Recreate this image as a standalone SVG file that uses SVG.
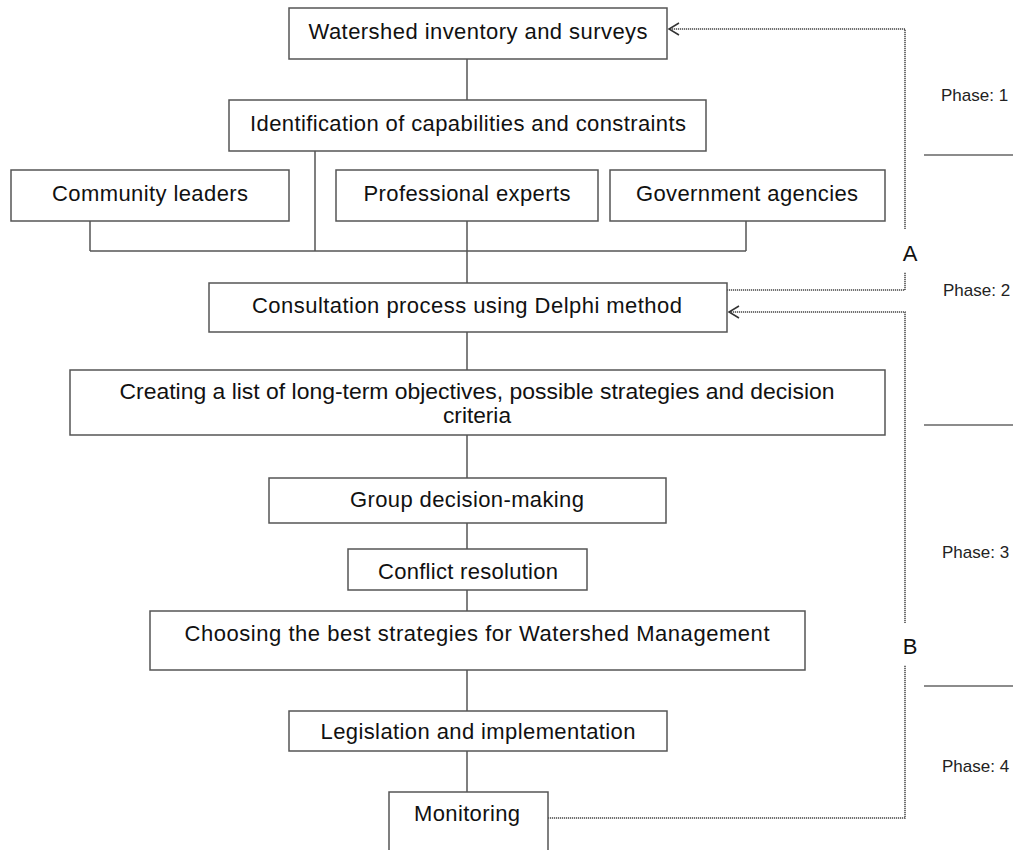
<svg xmlns="http://www.w3.org/2000/svg" width="1013" height="850" viewBox="0 0 1013 850">
  <style>
    .box { fill: #ffffff; stroke: #555555; stroke-width: 1.5; }
    .line { fill: none; stroke: #555555; stroke-width: 1.5; }
    .dot { fill: none; stroke: #444444; stroke-width: 1.5; stroke-dasharray: 1.2 0.8; }
    .head { fill: none; stroke: #333333; stroke-width: 1.5; }
    .lbl { font-family: "Liberation Sans", Arial, sans-serif; font-size: 22px; fill: #111111; text-anchor: middle; }
    .phase { font-family: "Liberation Sans", Arial, sans-serif; font-size: 17px; fill: #222222; }
    .sep { stroke: #666666; stroke-width: 1.5; }
  </style>

  <!-- connectors -->
  <g id="connectors">
    <!-- main spine -->
    <line class="line" x1="467" y1="59" x2="467" y2="100"/>
    <line class="line" x1="315" y1="151" x2="315" y2="251"/>
    <line class="line" x1="90" y1="221" x2="90" y2="251"/>
    <line class="line" x1="746" y1="221" x2="746" y2="251"/>
    <line class="line" x1="90" y1="251" x2="746" y2="251"/>
    <line class="line" x1="467" y1="221" x2="467" y2="283"/>
    <line class="line" x1="467" y1="332" x2="467" y2="370"/>
    <line class="line" x1="467" y1="435" x2="467" y2="478"/>
    <line class="line" x1="467" y1="523" x2="467" y2="549"/>
    <line class="line" x1="467" y1="590" x2="467" y2="611"/>
    <line class="line" x1="467" y1="670" x2="467" y2="711"/>
    <line class="line" x1="467" y1="751" x2="467" y2="792"/>

    <!-- feedback loop A -->
    <polyline class="dot" points="727,290 905,290 905,272"/>
    <polyline class="dot" points="905,229 905,29 670,29"/>
    <polyline class="head" points="679,23 669,29 679,35"/>

    <!-- feedback loop B -->
    <polyline class="dot" points="548,818 905,818 905,665"/>
    <polyline class="dot" points="905,623 905,312 730,312"/>
    <polyline class="head" points="739,306 729,312 739,318"/>
  </g>

  <!-- nodes -->
  <g id="watershed-inventory">
    <rect class="box" x="289" y="8" width="378" height="51"/>
    <text class="lbl" x="478" y="39" textLength="339" lengthAdjust="spacing">Watershed inventory and surveys</text>
  </g>
  <g id="identification">
    <rect class="box" x="229" y="100" width="477" height="51"/>
    <text class="lbl" x="468" y="131" textLength="436" lengthAdjust="spacing">Identification of capabilities and constraints</text>
  </g>
  <g id="community-leaders">
    <rect class="box" x="11" y="170" width="278" height="51"/>
    <text class="lbl" x="150" y="201" textLength="196" lengthAdjust="spacing">Community leaders</text>
  </g>
  <g id="professional-experts">
    <rect class="box" x="336" y="170" width="262" height="51"/>
    <text class="lbl" x="467" y="201" textLength="207" lengthAdjust="spacing">Professional experts</text>
  </g>
  <g id="government-agencies">
    <rect class="box" x="610" y="170" width="275" height="51"/>
    <text class="lbl" x="747" y="201" textLength="222" lengthAdjust="spacing">Government agencies</text>
  </g>
  <g id="consultation">
    <rect class="box" x="209" y="283" width="518" height="49"/>
    <text class="lbl" x="467" y="313" textLength="430" lengthAdjust="spacing">Consultation process using Delphi method</text>
  </g>
  <g id="objectives-list">
    <rect class="box" x="70" y="370" width="815" height="65"/>
    <text class="lbl" x="477" y="399" textLength="715" lengthAdjust="spacingAndGlyphs">Creating a list of long-term objectives, possible strategies and decision</text>
    <text class="lbl" x="477" y="423" textLength="68" lengthAdjust="spacingAndGlyphs">criteria</text>
  </g>
  <g id="group-decision">
    <rect class="box" x="269" y="478" width="397" height="45"/>
    <text class="lbl" x="467" y="507" textLength="234" lengthAdjust="spacing">Group decision-making</text>
  </g>
  <g id="conflict-resolution">
    <rect class="box" x="348" y="549" width="239" height="41"/>
    <text class="lbl" x="468" y="579" textLength="180" lengthAdjust="spacing">Conflict resolution</text>
  </g>
  <g id="best-strategies">
    <rect class="box" x="150" y="611" width="655" height="59"/>
    <text class="lbl" x="477" y="641" textLength="585" lengthAdjust="spacing">Choosing the best strategies for Watershed Management</text>
  </g>
  <g id="legislation">
    <rect class="box" x="289" y="711" width="378" height="40"/>
    <text class="lbl" x="478" y="739" textLength="315" lengthAdjust="spacing">Legislation and implementation</text>
  </g>
  <g id="monitoring">
    <rect class="box" x="389" y="792" width="159" height="70"/>
    <text class="lbl" x="467" y="821" textLength="106" lengthAdjust="spacing">Monitoring</text>
  </g>

  <!-- loop labels -->
  <g id="loop-labels">
    <text class="lbl" x="910" y="261">A</text>
    <text class="lbl" x="910" y="654">B</text>
  </g>

  <!-- phase bands -->
  <g id="phases">
    <line class="sep" x1="924" y1="155" x2="1013" y2="155"/>
    <line class="sep" x1="924" y1="425" x2="1013" y2="425"/>
    <line class="sep" x1="924" y1="686" x2="1013" y2="686"/>
    <text class="phase" x="941" y="101">Phase: 1</text>
    <text class="phase" x="943" y="296">Phase: 2</text>
    <text class="phase" x="942" y="558">Phase: 3</text>
    <text class="phase" x="942" y="772">Phase: 4</text>
  </g>
</svg>
